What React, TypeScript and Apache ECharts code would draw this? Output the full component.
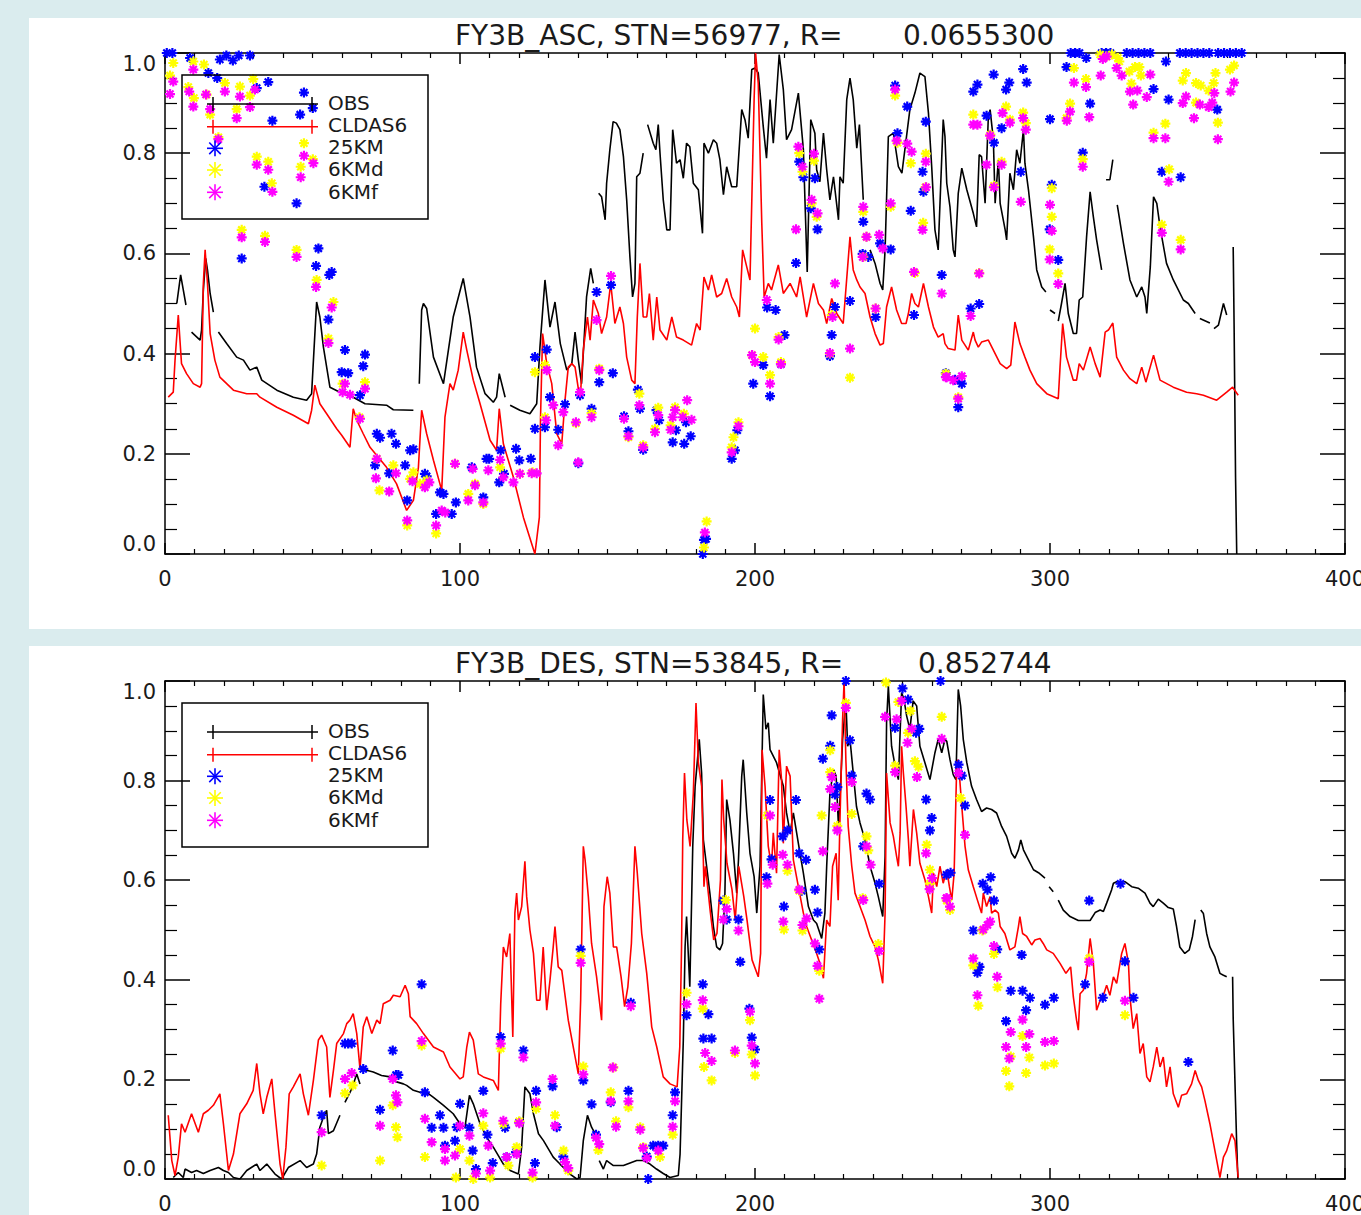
import React, { useEffect, useRef } from "react";
import * as echarts from "echarts";

type P = [number, number];

// ---------- Panel 1 : FY3B_ASC ----------
const TITLE_1 = "FY3B_ASC, STN=56977, R=";
const R_1 = "0.0655300";

const OBS_ASC: P[][] = [
  [[4, 0.5], [5.3, 0.557], [6.2, 0.527], [7.1, 0.497]],
  [[9, 0.443], [11.9, 0.427], [12.4, 0.447], [13, 0.527], [13.8, 0.59], [14.4, 0.567], [15.3, 0.52], [16.4, 0.483]],
  [[18.1, 0.443], [20.9, 0.42], [24.3, 0.393], [26.6, 0.387], [28.8, 0.367], [31.1, 0.373], [32.8, 0.347], [37.9, 0.327], [43.5, 0.313], [48, 0.307], [49.7, 0.32], [50.5, 0.407], [51.4, 0.503], [52.5, 0.473], [53.7, 0.413], [55.9, 0.333], [59.3, 0.323], [63.8, 0.313], [67.8, 0.3], [75.1, 0.297], [77.4, 0.288], [84.2, 0.287]],
  [[86.2, 0.34], [87, 0.487], [87.6, 0.5], [88.7, 0.49], [91, 0.393], [94.4, 0.34], [97.7, 0.473], [101.1, 0.55], [103.4, 0.473], [105.6, 0.373], [108.5, 0.32], [111.3, 0.303], [112.4, 0.313], [113.3, 0.36], [115.3, 0.313]],
  [[117, 0.297], [120.3, 0.287], [123.7, 0.28], [126, 0.3], [127.1, 0.413], [128.8, 0.547], [130.5, 0.453], [132.2, 0.503], [134, 0.42], [136.2, 0.367], [137.9, 0.38], [139, 0.443], [140.1, 0.387], [141.2, 0.34], [142.9, 0.513], [144.3, 0.57], [145.2, 0.54]],
  [[147, 0.72], [148, 0.713], [149.2, 0.667], [149.7, 0.74], [150.8, 0.807], [151.9, 0.863], [153, 0.86], [154.2, 0.847], [155.4, 0.793], [156.5, 0.707], [157.6, 0.593], [158.5, 0.513], [159.3, 0.54], [159.9, 0.753], [161, 0.76], [162.1, 0.8]],
  [[163.6, 0.857], [165.5, 0.82], [166.4, 0.807], [167.2, 0.857], [167.8, 0.8], [168.9, 0.707], [170.1, 0.647], [171.2, 0.647], [172.1, 0.847], [173.4, 0.78], [174.6, 0.787], [175.7, 0.75], [176.8, 0.82], [177.9, 0.813], [179.1, 0.74], [180.8, 0.727], [182.2, 0.64], [182.7, 0.82], [184.2, 0.8], [185.9, 0.827], [187, 0.82], [188.1, 0.787], [189.3, 0.717], [190.4, 0.773], [192.1, 0.733], [193.8, 0.733], [195.5, 0.887], [196.6, 0.867], [197.7, 0.83], [198.9, 0.967], [200, 0.97], [201.1, 0.96], [202.8, 0.853], [203.9, 0.79], [205.1, 0.907], [206.2, 0.82], [208.2, 0.997], [209.6, 0.927], [210.7, 0.827], [212.4, 0.847], [214.7, 0.92], [216.4, 0.807], [217.7, 0.563], [218.9, 0.867], [220.3, 0.84], [220.9, 0.767], [222, 0.743], [223.2, 0.84], [224.3, 0.767], [225.4, 0.707], [226.6, 0.753], [228.3, 0.667], [228.8, 0.753], [229.9, 0.74], [231.1, 0.907], [232.2, 0.95], [233.3, 0.907], [234.5, 0.81], [235.4, 0.857], [236.7, 0.707]],
  [[239, 0.607], [240.7, 0.58], [242.4, 0.54], [243.3, 0.527], [244.1, 0.607], [245.2, 0.833], [246.9, 0.84], [248.6, 0.773], [249.8, 0.76], [250.8, 0.807], [252.5, 0.887], [254.2, 0.92], [255.9, 0.96], [257.6, 0.953], [258.8, 0.88], [259.9, 0.773], [261, 0.647], [262.1, 0.607], [263.8, 0.867], [264.4, 0.833], [265, 0.74], [266.1, 0.693], [267.2, 0.607], [267.8, 0.593], [268.9, 0.72], [270.1, 0.77], [271.8, 0.727], [274, 0.68], [275.1, 0.653], [276, 0.797], [276.8, 0.793], [278, 0.7], [279.1, 0.873], [279.7, 0.887], [280.8, 0.827], [281.4, 0.7], [282.5, 0.787], [283.1, 0.7], [284.8, 0.647], [285.3, 0.627], [286.4, 0.76], [287.6, 0.727], [288.7, 0.807], [289.8, 0.78], [291, 0.847], [291.5, 0.78], [292.7, 0.727], [294.4, 0.633], [295.5, 0.567], [297.2, 0.533], [298.6, 0.523]],
  [[300, 0.487], [301.7, 0.48]],
  [[302.8, 0.465], [303.9, 0.5], [305.1, 0.54], [306.2, 0.48], [307.9, 0.44], [309, 0.44], [309.9, 0.507], [311.1, 0.513], [312.4, 0.633], [313.6, 0.723], [314.7, 0.673], [315.8, 0.627], [317.5, 0.567]],
  [[319, 0.747], [320.3, 0.747], [321.3, 0.787]],
  [[322.8, 0.697], [324.9, 0.62], [327.1, 0.547], [329.4, 0.513], [331.1, 0.533], [332.2, 0.513], [332.8, 0.48], [334, 0.573], [335.1, 0.713], [336.2, 0.7], [337.3, 0.653], [339.5, 0.58], [341.8, 0.547], [345.2, 0.507], [346.9, 0.5], [349.2, 0.48]],
  [[350.8, 0.47], [354.2, 0.461]],
  [[355.6, 0.45], [357.1, 0.457], [358.8, 0.5], [359.9, 0.477]],
  [[362.1, 0.613], [362.4, 0.46], [362.9, 0.153], [363.3, 0]],
];

const CLDAS_ASC: P[][] = [[
  [1.1, 0.313], [2.8, 0.323], [3.4, 0.387], [4.5, 0.477], [5.6, 0.38], [7.3, 0.36], [9.6, 0.34], [11.9, 0.333], [12.4, 0.34], [13, 0.54], [13.6, 0.607], [14.4, 0.54], [15.3, 0.44], [16.9, 0.387], [18.6, 0.353], [23.2, 0.327], [27.7, 0.32], [31.1, 0.32], [32.2, 0.313], [37.9, 0.293], [43.5, 0.277], [48.6, 0.26], [49.7, 0.287], [50.8, 0.337], [52.5, 0.3], [54.8, 0.28], [58.2, 0.25], [59.9, 0.237], [62.7, 0.213], [63.8, 0.29], [65, 0.267], [67.2, 0.24], [69.5, 0.213], [75.1, 0.173], [78.5, 0.14], [81.9, 0.087], [84.2, 0.107], [85.9, 0.173], [87, 0.287], [88.7, 0.24], [91, 0.187], [93.8, 0.127], [94.9, 0.273], [96.6, 0.34], [97.7, 0.327], [99.4, 0.367], [101.1, 0.443], [102.3, 0.407], [104.5, 0.347], [106.8, 0.3], [110.2, 0.227], [112.4, 0.207], [113.3, 0.29], [114.7, 0.22], [118.1, 0.153], [121.5, 0.073], [125.4, 0], [126.9, 0.073], [127.3, 0.273], [128, 0.44], [129.4, 0.38], [131.1, 0.34], [132.8, 0.24], [134.5, 0.22], [135.6, 0.307], [136.7, 0.373], [137.9, 0.38], [139, 0.373], [140.7, 0.307], [141.8, 0.407], [143.2, 0.473], [144.1, 0.427], [145.2, 0.507], [146.9, 0.48], [148, 0.44], [149.7, 0.473], [151.1, 0.54], [152.5, 0.46], [154.2, 0.493], [155.4, 0.46], [156.5, 0.393], [158.2, 0.347], [159.3, 0.34], [160.1, 0.473], [161, 0.58], [162.1, 0.473], [163.3, 0.473], [164.2, 0.52], [165.5, 0.427], [166.7, 0.513], [167.8, 0.447], [170.1, 0.427], [171.8, 0.473], [173.4, 0.433], [175.7, 0.427], [178.5, 0.417], [180.2, 0.46], [181.4, 0.447], [182.7, 0.553], [184.2, 0.527], [185.3, 0.557], [187, 0.513], [188.7, 0.52], [190.4, 0.55], [192.1, 0.513], [193.8, 0.493], [194.7, 0.473], [195.8, 0.607], [197.2, 0.573], [198.3, 0.547], [199.7, 0.907], [200.2, 1.0], [201.1, 0.94], [202.3, 0.66], [203.1, 0.513], [204.5, 0.54], [205.6, 0.527], [207.9, 0.577], [209.6, 0.52], [211.9, 0.54], [214.1, 0.513], [215.3, 0.553], [217.5, 0.473], [219.8, 0.54], [221.5, 0.5], [223.2, 0.487], [224.3, 0.46], [226, 0.51], [227.7, 0.48], [229.9, 0.46], [232.2, 0.633], [233.3, 0.567], [234.5, 0.547], [235.6, 0.533], [237.3, 0.52], [239, 0.473], [240.7, 0.44], [242.4, 0.417], [243.5, 0.42], [244.6, 0.493], [246.3, 0.533], [248, 0.487], [249.7, 0.46], [251.2, 0.46], [252, 0.48], [253.1, 0.52], [254.2, 0.5], [255.4, 0.493], [257.1, 0.54], [258.8, 0.493], [260.5, 0.453], [262.1, 0.433], [263.8, 0.44], [264.4, 0.42], [265.5, 0.41], [267.8, 0.407], [268.9, 0.477], [270.1, 0.427], [272.3, 0.407], [274, 0.443], [274.6, 0.427], [275.7, 0.413], [276.8, 0.423], [279.1, 0.427], [280.8, 0.407], [283.1, 0.38], [285.3, 0.37], [286.7, 0.377], [288.1, 0.463], [289.8, 0.42], [291.5, 0.393], [293.2, 0.367], [295.5, 0.34], [298.9, 0.32], [302.8, 0.31], [303.4, 0.373], [304.3, 0.46], [305.6, 0.393], [307.9, 0.347], [309, 0.347], [309.9, 0.38], [311.3, 0.367], [313.6, 0.413], [315.3, 0.38], [317, 0.353], [318.7, 0.443], [319.8, 0.447], [321.3, 0.461], [322.6, 0.393], [324.9, 0.367], [327.1, 0.35], [329.4, 0.34], [331.1, 0.373], [332.5, 0.343], [335.1, 0.397], [337.3, 0.347], [341.8, 0.333], [346.3, 0.323], [349.7, 0.32], [352, 0.317], [356.5, 0.307], [359.9, 0.323], [361.9, 0.333], [363.8, 0.317],
]];

const KM25_ASC: P[] = [
  [0.6, 1], [2.5, 1], [8.5, 0.99], [18.6, 0.987], [20.8, 0.995], [23, 0.985], [25, 0.995], [28.8, 0.995],
  [14.7, 0.96], [17.7, 0.95], [31.1, 0.93], [35, 0.942], [47.1, 0.921], [45.8, 0.877], [36.4, 0.865], [50.1, 0.89], [44.6, 0.7], [33.7, 0.733], [26, 0.59], [52, 0.61], [51.2, 0.575], [56.5, 0.563], [55.7, 0.557], [55.4, 0.468], [61, 0.407], [59.9, 0.363], [62.1, 0.361], [67.8, 0.398], [67.2, 0.375], [66.1, 0.317], [71.8, 0.24], [72.9, 0.232], [76.8, 0.24], [78.3, 0.22], [71.2, 0.177], [76, 0.161], [81.4, 0.177], [83.1, 0.207], [84.2, 0.209], [82.1, 0.107], [88.1, 0.16], [88.7, 0.155], [93.2, 0.123], [94.4, 0.12], [98.6, 0.103], [91.9, 0.08], [97.2, 0.08], [104, 0.173], [109, 0.19], [109.9, 0.19], [113.8, 0.207], [114.9, 0.16], [113.3, 0.143], [107.9, 0.113], [119, 0.21], [120.1, 0.187], [124, 0.19], [125.4, 0.393], [129.4, 0.408], [125.4, 0.25], [128.8, 0.253], [130.5, 0.313], [133.3, 0.248],
  [146.3, 0.523], [151.2, 0.537], [151.8, 0.361], [147.2, 0.343], [140.7, 0.317], [135.6, 0.299], [144.6, 0.29], [140.1, 0.181], [160.3, 0.328], [161, 0.29], [157.1, 0.245], [155.6, 0.275], [162.1, 0.208], [166.6, 0.287], [167.5, 0.267], [173.2, 0.247], [172.1, 0.223], [176, 0.22], [178.2, 0.235], [176.6, 0.263], [182.3, 0.0], [182.7, 0.028], [183.4, 0.03], [192.1, 0.19], [193.2, 0.207], [194, 0.247], [199.4, 0.34], [202.8, 0.377], [205.1, 0.315], [204.1, 0.492], [207, 0.487], [210, 0.437], [208.8, 0.379], [213.9, 0.581], [215, 0.783], [216.4, 0.752], [220.3, 0.75], [218.9, 0.69], [221.2, 0.648], [226, 0.437], [227.1, 0.493], [225.4, 0.395], [232.2, 0.505], [236.7, 0.663], [236.5, 0.599], [238.4, 0.593], [242.4, 0.62], [246, 0.608], [240.9, 0.473], [247.5, 0.935], [248.3, 0.84], [251.6, 0.893], [252.8, 0.685], [253.9, 0.477], [256.8, 0.763], [257.9, 0.863], [263.3, 0.557], [264.7, 0.361], [257.1, 0.723],
  [274, 0.923], [275.4, 0.937], [280.9, 0.957], [285.1, 0.927], [286.2, 0.941], [290.9, 0.968], [292.1, 0.941], [278.5, 0.875], [281, 0.821], [283.6, 0.85], [290.1, 0.763], [273.1, 0.49], [276, 0.499], [270.1, 0.34], [267.8, 0.348], [268.9, 0.293], [300, 0.868], [300.6, 0.737], [299.9, 0.648], [302.8, 0.587], [305.6, 0.972], [311.1, 0.801], [313.6, 0.899], [312.3, 0.99], [335.1, 0.928], [340.2, 0.907], [339.3, 0.983], [337.9, 0.763], [344.3, 0.752], [356.7, 0.887],
  [307, 1], [308.5, 1], [310, 1], [317.5, 1], [319, 1], [320.5, 1], [326, 1], [328, 1], [330, 1], [332, 1], [334, 1], [344, 1], [346, 1], [348, 1], [350, 1], [352, 1], [354, 1], [357, 1], [359, 1], [361, 1], [363, 1], [365, 1],
];

const KM6D_ASC: P[] = [
  [2.8, 0.98], [1.7, 0.955], [9.6, 0.983], [13.2, 0.977], [20.3, 0.94], [25.4, 0.933], [29.9, 0.948], [7.9, 0.932], [9.8, 0.91], [14.1, 0.917], [15.3, 0.877], [24.3, 0.888], [28.8, 0.915], [18.1, 0.832], [47.1, 0.82], [31.1, 0.793], [35, 0.783], [46, 0.773], [50.1, 0.788], [36.2, 0.74], [26, 0.647], [33.9, 0.635], [44.6, 0.607], [51.4, 0.547], [57.1, 0.503], [55.4, 0.43], [60.2, 0.34], [67.8, 0.343], [125.4, 0.363], [128.8, 0.377], [128.8, 0.273], [71.8, 0.19], [77.4, 0.177], [84.2, 0.163], [83.1, 0.15], [86.4, 0.14], [88.7, 0.147], [82.1, 0.057], [91.9, 0.041], [102.8, 0.12], [105.1, 0.14], [98.3, 0.18], [113.6, 0.173], [120.3, 0.16], [124.6, 0.163], [72.7, 0.127], [107.9, 0.1], [65.9, 0.273],
  [147.2, 0.37], [144.6, 0.281], [139.3, 0.261], [160.8, 0.32], [167.2, 0.292], [166.1, 0.25], [171.4, 0.257], [172.9, 0.293], [175.9, 0.28], [162.1, 0.217], [157.1, 0.233], [192.1, 0.213], [192.7, 0.233], [194.4, 0.263], [183.6, 0.065], [182.7, 0.013], [200, 0.45], [202.8, 0.393], [205.1, 0.357], [199, 0.397], [208, 0.433], [208.8, 0.383], [215, 0.8], [216.1, 0.763], [220, 0.785], [219.2, 0.7], [220.9, 0.673], [225.4, 0.4], [226, 0.477], [232.2, 0.352], [236.7, 0.683], [237.8, 0.633], [236.7, 0.593], [240.9, 0.49], [246, 0.693], [247.5, 0.915], [252.8, 0.78], [248.3, 0.821], [257.9, 0.799], [257, 0.661], [254.2, 0.561], [257.8, 0.732], [264.7, 0.36],
  [274, 0.877], [285.1, 0.893], [286.4, 0.867], [290.9, 0.881], [291.8, 0.86], [283.6, 0.783], [276, 0.561], [268.9, 0.313], [281, 0.735], [279.8, 0.837], [300.6, 0.73], [300.6, 0.673], [299.9, 0.608], [302.8, 0.56], [306.8, 0.899], [305.6, 0.87], [311.1, 0.788], [308.1, 0.97], [312.2, 0.948], [323.5, 0.983], [326.9, 0.963], [328.8, 0.972], [330.3, 0.972], [327.6, 0.939], [330.8, 0.955], [335.1, 0.841], [339.1, 0.859], [340.4, 0.768], [337.9, 0.657], [344.3, 0.627], [345, 0.945], [346.1, 0.96], [349.5, 0.94], [351.1, 0.935], [353.8, 0.925], [355.5, 0.94], [356.1, 0.96], [356.9, 0.861], [361, 0.967], [362.4, 0.975], [349.5, 0.901], [317, 0.997], [319, 0.993], [321, 0.997], [323, 0.99],
];

const KM6F_ASC: P[] = [
  [1.7, 0.918], [2.8, 0.943], [9.6, 0.967], [8.2, 0.923], [9.6, 0.893], [13.9, 0.917], [15.3, 0.888], [20.3, 0.923], [24.3, 0.87], [25.4, 0.913], [28.8, 0.892], [30.5, 0.927], [18.1, 0.828], [47.1, 0.795], [50.3, 0.78], [31.1, 0.777], [35, 0.767], [46, 0.752], [36.4, 0.723], [26, 0.632], [33.9, 0.623], [44.6, 0.593], [51.2, 0.533], [56.5, 0.492], [55.4, 0.421], [61, 0.34], [60.2, 0.323], [62.7, 0.318], [67.8, 0.33], [66.1, 0.27], [71.8, 0.19], [71.5, 0.151], [76, 0.125], [78.3, 0.161], [83.9, 0.145], [82.1, 0.067], [88.1, 0.133], [89.6, 0.143], [91.9, 0.057], [93.8, 0.087], [95, 0.083], [98.3, 0.18], [102.8, 0.107], [104.3, 0.17], [105.1, 0.137], [109.6, 0.167], [113.6, 0.188], [114.7, 0.153], [118.1, 0.143], [120.3, 0.16], [124.3, 0.161], [126, 0.161], [129.4, 0.367], [129.2, 0.267], [133.3, 0.217], [107.9, 0.103],
  [146.3, 0.467], [151.2, 0.555], [147.2, 0.367], [140.7, 0.323], [135, 0.283], [131.6, 0.297], [139.3, 0.263], [144.6, 0.273], [140.1, 0.183], [160.8, 0.297], [155.6, 0.27], [157.1, 0.235], [162.1, 0.213], [166.1, 0.243], [167.2, 0.277], [171.4, 0.248], [172.9, 0.287], [172.1, 0.273], [177, 0.307], [178.5, 0.268], [175.5, 0.273], [183, 0.043], [192.1, 0.203], [194.4, 0.255], [199, 0.397], [200, 0.383], [205.1, 0.34], [204, 0.507], [208, 0.428], [208.8, 0.379], [213.9, 0.648], [214.7, 0.813], [216.1, 0.773], [220, 0.799], [219.2, 0.707], [221.2, 0.68], [225.4, 0.401], [226.3, 0.473], [227.1, 0.54], [232.2, 0.41], [236.7, 0.693], [237.8, 0.633], [236.5, 0.593], [240.9, 0.49], [242.1, 0.637], [243.3, 0.61], [246, 0.7], [248, 0.825], [251.6, 0.819], [253.1, 0.803], [253.9, 0.563], [256.8, 0.647], [257.9, 0.783], [258, 0.732], [263.3, 0.52], [264.7, 0.353], [247.5, 0.927],
  [274, 0.857], [275.4, 0.857], [278.5, 0.777], [279.7, 0.835], [281, 0.732], [283.9, 0.88], [286.4, 0.861], [290.9, 0.87], [291.8, 0.847], [283.6, 0.777], [290.1, 0.703], [273.1, 0.475], [276, 0.56], [265, 0.353], [267.2, 0.347], [270.1, 0.355], [268.9, 0.31], [300, 0.697], [300.6, 0.645], [299.9, 0.588], [302.8, 0.539], [305.7, 0.865], [306.8, 0.883], [308.1, 0.941], [312.2, 0.932], [313.3, 0.872], [311.1, 0.773], [317.2, 0.955], [317.9, 0.988], [322.6, 0.97], [324.3, 0.955], [327.1, 0.923], [328.2, 0.897], [329.6, 0.925], [332.8, 0.912], [334, 0.957], [335.1, 0.83], [339.1, 0.83], [340.2, 0.743], [337.9, 0.641], [344.3, 0.608], [345, 0.9], [346.1, 0.913], [348.8, 0.87], [350.8, 0.897], [353.8, 0.892], [355, 0.901], [355.7, 0.92], [356.9, 0.828], [361.2, 0.923], [362.4, 0.941], [319.2, 0.993],
];

// ---------- Panel 2 : FY3B_DES ----------
const TITLE_2 = "FY3B_DES, STN=53845, R=";
const R_2 = "0.852744";

const OBS_DES: P[][] = [
  [[2.8, 0.003], [4.5, 0.013], [6.2, 0.003], [6.8, 0.02], [9, 0.013], [10.7, 0.017], [13, 0.011], [15.3, 0.017], [18.1, 0.023], [19.8, 0.017], [21.5, 0.013], [23.2, 0.003], [25.4, 0], [27.7, 0.017], [31.1, 0.03], [32.2, 0.017], [34.5, 0.03], [37.3, 0.01], [39.5, 0], [41.8, 0.023], [45.8, 0.037], [48, 0.023], [50.3, 0.03], [51.4, 0.05], [52.5, 0.104], [53.7, 0.124], [54.8, 0.138], [55.4, 0.091], [57.1, 0.097], [59.3, 0.128]],
  [[61, 0.154], [63.3, 0.181], [65, 0.211], [66.1, 0.191]],
  [[66.7, 0.221], [70.6, 0.215], [73.4, 0.208], [76.3, 0.205], [78.5, 0.195], [80.8, 0.191], [81.9, 0.188], [84.2, 0.178], [86.4, 0.174], [88.7, 0.174], [91, 0.164], [94.4, 0.148], [97.7, 0.131], [100, 0.111], [101.7, 0.104], [103.2, 0.168], [104.5, 0.151], [106.8, 0.111], [109, 0.084], [111.3, 0.064], [114.7, 0.03], [117, 0.017], [119.8, 0.01], [120.9, 0.064], [122, 0.185], [123.7, 0.171], [124.9, 0.131], [126.6, 0.091], [128.3, 0.077], [131.6, 0.044], [133.9, 0.03], [137.3, 0.01], [139.6, 0], [140.7, 0.003], [141.8, 0.077], [143.2, 0.128], [144.6, 0.104], [145.8, 0.091]],
  [[147.2, 0.037], [148.6, 0.02], [149.7, 0.037], [152, 0.027], [155.4, 0.027], [159.9, 0.037], [162.1, 0.037], [164.4, 0.03], [166.6, 0.02], [168.9, 0.011], [171.2, 0.003], [174, 0.007], [174.6, 0.05], [175.7, 0.279], [176.3, 0.466], [176.8, 0.527], [177.9, 0.386], [178.9, 0.668], [179.7, 0.789], [180.2, 0.822], [181.1, 0.883], [181.9, 0.815], [182.5, 0.681], [183.6, 0.628], [184.7, 0.574], [185.9, 0.507], [187, 0.466], [188.1, 0.46], [189, 0.473], [189.8, 0.574], [190.4, 0.762], [191.5, 0.721], [192.7, 0.654], [193.8, 0.574], [194.4, 0.641], [195.5, 0.809], [196, 0.842], [197.2, 0.735], [198.3, 0.654], [199.7, 0.607], [200.6, 0.534], [201.7, 0.628], [202.8, 0.973], [203.7, 0.903], [204.5, 0.916], [205.1, 0.862], [207.3, 0.836], [209.6, 0.789], [210.7, 0.735], [211.9, 0.695], [213, 0.735], [214.7, 0.674], [216.4, 0.614], [218.1, 0.547], [219.8, 0.52], [220.9, 0.513], [222.6, 0.483], [223.7, 0.534], [224.3, 0.628], [225.4, 0.775], [226.6, 0.822], [227.5, 0.809], [228.3, 0.708], [228.8, 0.762], [229.7, 0.883], [230.8, 0.963], [231.4, 0.869], [232.2, 0.883], [233.3, 0.815], [234.4, 0.748], [235.6, 0.715], [237.3, 0.681], [239, 0.628], [240.7, 0.594], [241.8, 0.567], [243.3, 0.527], [244.1, 0.648], [244.6, 0.916], [245.2, 0.99], [246.3, 0.869], [247.5, 0.829], [248.6, 0.802], [249.7, 0.977], [250.5, 0.963], [251.4, 0.93], [252.5, 0.903], [253.6, 0.96], [254.8, 0.95], [255.9, 0.869], [257.6, 0.836], [259.3, 0.802], [261, 0.856], [262.1, 0.883], [263.3, 0.856], [264.4, 0.883], [265, 0.879], [266.1, 0.842], [267.2, 0.812], [268.1, 0.802], [268.9, 0.983], [269.7, 0.95], [270.6, 0.883], [271.8, 0.836], [273.4, 0.789], [275.1, 0.762], [276.8, 0.738], [278.5, 0.745], [280.2, 0.742], [281.9, 0.735], [283.6, 0.708], [285.3, 0.688], [287, 0.654], [288.1, 0.644], [289.3, 0.661], [290.1, 0.681], [291, 0.661], [292.7, 0.641], [294.4, 0.621], [296.1, 0.615], [298.3, 0.604]],
  [[299.7, 0.587], [301.1, 0.577]],
  [[302.8, 0.56], [304.5, 0.54], [306.8, 0.527], [309.6, 0.519], [313.6, 0.519], [315.3, 0.535], [317, 0.54], [318.1, 0.537], [319.2, 0.554], [320.9, 0.581], [321.5, 0.594], [322.6, 0.597], [325.4, 0.597], [327.7, 0.587], [329.9, 0.584], [332.2, 0.574], [333.9, 0.554], [335, 0.547], [336.7, 0.562], [338.4, 0.554], [340.1, 0.545], [341.8, 0.542], [342.9, 0.507], [344, 0.466], [345.7, 0.453], [347.2, 0.46], [348.3, 0.487], [349.2, 0.521]],
  [[351.1, 0.54], [352, 0.533], [353.1, 0.493], [354.2, 0.466], [355.9, 0.446], [357.6, 0.413], [358.8, 0.409], [359.9, 0.406]],
  [[361.9, 0.406], [362.1, 0.322], [362.9, 0.151], [363.3, 0.067], [363.7, 0]],
];

const CLDAS_DES: P[][] = [[
  [1.1, 0.128], [2.3, 0.037], [3.4, 0.007], [4.5, 0.044], [5.6, 0.111], [6.8, 0.094], [9, 0.131], [11.3, 0.094], [13, 0.131], [14.7, 0.138], [16.4, 0.148], [18.6, 0.171], [19.8, 0.111], [21.5, 0.017], [23.2, 0.05], [25.4, 0.131], [27.7, 0.151], [29.9, 0.178], [31.1, 0.232], [32.2, 0.171], [33.3, 0.131], [34.5, 0.164], [36.2, 0.201], [37.3, 0.131], [39, 0.03], [39.9, 0], [41, 0.064], [42.1, 0.171], [43.5, 0.185], [45.8, 0.211], [46.9, 0.171], [48.6, 0.128], [50.3, 0.198], [52, 0.279], [53.1, 0.289], [54.8, 0.265], [55.9, 0.164], [57.1, 0.218], [58.2, 0.272], [60.5, 0.292], [61.6, 0.312], [62.7, 0.319], [63.8, 0.332], [65, 0.292], [66.1, 0.221], [67.2, 0.305], [68.4, 0.326], [70.1, 0.292], [71.8, 0.319], [72.9, 0.312], [74, 0.352], [76.3, 0.359], [77.4, 0.369], [79.7, 0.366], [81.4, 0.389], [82.5, 0.372], [83.1, 0.326], [85.3, 0.312], [87.6, 0.292], [91, 0.265], [94.4, 0.255], [96.6, 0.225], [100, 0.201], [101.1, 0.205], [102.3, 0.265], [103.2, 0.295], [104.5, 0.279], [106.2, 0.211], [107.9, 0.205], [111.3, 0.198], [113, 0.178], [113.8, 0.352], [114.7, 0.466], [115.8, 0.446], [116.9, 0.493], [117.9, 0.285], [118.6, 0.534], [119.2, 0.574], [119.8, 0.52], [120.9, 0.547], [122, 0.638], [122.6, 0.567], [123.7, 0.5], [124.9, 0.453], [126, 0.359], [127.1, 0.359], [128.2, 0.466], [129.4, 0.339], [130.5, 0.399], [131.6, 0.466], [132.2, 0.507], [133.3, 0.426], [134.5, 0.419], [136.7, 0.319], [138.4, 0.265], [140.1, 0.211], [140.9, 0.359], [141.8, 0.668], [142.4, 0.641], [143.5, 0.567], [144.6, 0.473], [146.3, 0.406], [148, 0.319], [148.8, 0.547], [149.9, 0.607], [150.8, 0.574], [152, 0.466], [153.1, 0.466], [154.6, 0.406], [155.8, 0.346], [156.9, 0.386], [158.1, 0.473], [159.3, 0.668], [160.1, 0.614], [161.6, 0.493], [163.3, 0.413], [165, 0.305], [166.7, 0.265], [168.9, 0.205], [171.2, 0.191], [173.6, 0.185], [174.5, 0.265], [175.1, 0.466], [175.5, 0.681], [176.1, 0.815], [176.9, 0.721], [178, 0.668], [179.1, 0.775], [180, 0.956], [180.8, 0.836], [181.9, 0.789], [182.7, 0.587], [183.2, 0.628], [184.9, 0.534], [186, 0.48], [187.1, 0.493], [188.3, 0.601], [188.8, 0.802], [189.4, 0.721], [190.5, 0.634], [192.2, 0.581], [193.3, 0.52], [194.5, 0.628], [196.2, 0.567], [197.3, 0.52], [199, 0.44], [201.1, 0.406], [201.9, 0.453], [202.4, 0.862], [203.4, 0.789], [204.5, 0.668], [205.6, 0.628], [206.2, 0.695], [207.3, 0.614], [208.2, 0.862], [209, 0.802], [209.6, 0.674], [210.7, 0.829], [211.9, 0.809], [213, 0.641], [214.7, 0.587], [216.4, 0.534], [217.5, 0.507], [219.2, 0.48], [220.9, 0.453], [222, 0.433], [223.2, 0.403], [224.3, 0.52], [225.4, 0.507], [226.3, 0.628], [227.5, 0.654], [228.2, 0.56], [228.8, 0.721], [229.7, 0.923], [230.2, 1.0], [230.8, 0.842], [231.6, 0.708], [232.8, 0.628], [233.9, 0.574], [235.6, 0.547], [237.3, 0.52], [239, 0.487], [240.7, 0.466], [241.8, 0.44], [243.3, 0.393], [244.1, 0.534], [244.6, 0.815], [245.8, 0.715], [246.9, 0.688], [248, 0.648], [248.6, 0.628], [249.2, 0.695], [249.7, 0.869], [250.3, 0.815], [251.2, 0.748], [252, 0.681], [252.5, 0.628], [253.7, 0.742], [254.8, 0.695], [255.9, 0.634], [257.6, 0.601], [258.8, 0.567], [259.9, 0.534], [260.5, 0.614], [261.6, 0.587], [262.7, 0.628], [263.8, 0.594], [265, 0.621], [265.9, 0.587], [266.7, 0.56], [267.5, 0.614], [268.4, 0.836], [268.9, 0.842], [270.1, 0.748], [271.2, 0.668], [272.3, 0.621], [274, 0.587], [275.4, 0.56], [276.8, 0.534], [277.4, 0.574], [278.5, 0.547], [279.7, 0.567], [280.2, 0.534], [281.4, 0.54], [282.5, 0.534], [283.1, 0.507], [284.7, 0.493], [286.4, 0.46], [288.1, 0.466], [289.3, 0.507], [289.8, 0.527], [290.7, 0.493], [292.1, 0.487], [293.8, 0.47], [294.9, 0.48], [296.6, 0.483], [297.7, 0.473], [298.9, 0.46], [301.1, 0.453], [303.4, 0.433], [305.4, 0.413], [307, 0.426], [307.9, 0.366], [309, 0.319], [309.6, 0.299], [310.2, 0.372], [311.3, 0.379], [312.4, 0.413], [313.6, 0.483], [314.7, 0.433], [315.8, 0.339], [317, 0.359], [318.1, 0.369], [319.2, 0.389], [320.3, 0.369], [321.5, 0.406], [322.6, 0.393], [324.3, 0.453], [325.4, 0.473], [326.6, 0.433], [327.1, 0.366], [328.2, 0.302], [329.4, 0.332], [330.5, 0.252], [331.6, 0.272], [332.8, 0.205], [333.9, 0.195], [335, 0.225], [336.2, 0.265], [337.3, 0.225], [338.4, 0.245], [339.5, 0.185], [340.7, 0.225], [341.8, 0.171], [343.5, 0.144], [344.6, 0.168], [346.3, 0.171], [348, 0.191], [349.2, 0.218], [350.3, 0.198], [351.4, 0.185], [352.5, 0.158], [354.2, 0.111], [355.9, 0.057], [357.6, 0.003], [358.8, 0.044], [359.9, 0.057], [361.6, 0.091], [362.7, 0.077], [363.8, 0.003],
]];

const KM25_DES: P[] = [
  [53.1, 0.128], [61, 0.272], [62.1, 0.272], [63.3, 0.272], [67.2, 0.221], [77.2, 0.258], [78.3, 0.209], [79.1, 0.209], [87, 0.391], [88.1, 0.174], [72.9, 0.139], [90.4, 0.103], [93.2, 0.128], [94.4, 0.103], [94.9, 0.067], [98.3, 0.077], [98.9, 0.104], [100, 0.151], [103.2, 0.103], [104.3, 0.057], [105.4, 0.02], [107.9, 0.177], [109.3, 0.089], [111.1, 0.032], [113.8, 0.285], [115.8, 0.044], [115.3, 0.103], [119, 0.054], [120.1, 0.114], [121.5, 0.258], [125.8, 0.177], [125.4, 0.032], [131.4, 0.186], [132.8, 0.104],
  [135, 0.045], [140.9, 0.461], [141.8, 0.198], [144.6, 0.15], [146.1, 0.089], [151.1, 0.154], [157.1, 0.177], [157.9, 0.354], [163.3, 0.045], [163.8, 0], [165.5, 0.067], [167.2, 0.067], [168.9, 0.067], [172.1, 0.128], [172.9, 0.174], [176.8, 0.329], [182.3, 0.391], [184.2, 0.331], [182.5, 0.282], [185.3, 0.282], [198.1, 0.342], [198.9, 0.284], [200, 0.26], [189.3, 0.559], [190.4, 0.521], [194.4, 0.521], [195, 0.436], [203.9, 0.606], [205.1, 0.761], [205.6, 0.642], [209.4, 0.688], [211, 0.7], [213.9, 0.761], [215, 0.654], [217.3, 0.641], [215.8, 0.579], [220.3, 0.581], [209.8, 0.547], [221.2, 0.535], [221.8, 0.461], [223, 0.844], [226, 0.931], [225.5, 0.87], [227.9, 0.787], [227.1, 0.772], [232.2, 0.881], [230.8, 1.0], [232.8, 0.81], [237.8, 0.774], [239, 0.762], [236.7, 0.668], [242.1, 0.593], [250, 0.985], [251.9, 0.963], [247.5, 0.906], [254.6, 0.896], [255.7, 0.904], [258, 0.762], [259.9, 0.725], [259.3, 0.7], [262.9, 1.0], [264.9, 0.611],
  [266.3, 0.615], [269, 0.832], [270.1, 0.81], [271.2, 0.75], [274, 0.499], [276.1, 0.426], [275.4, 0.414], [277.2, 0.593], [278.8, 0.581], [279.9, 0.606], [281, 0.559], [282.1, 0.461], [285.1, 0.317], [286.7, 0.378], [290.4, 0.45], [290.7, 0.378], [291.9, 0.339], [293.2, 0.364], [298.3, 0.35], [301.3, 0.364], [311.9, 0.391], [313.3, 0.559], [317.9, 0.364], [323.9, 0.593], [325.4, 0.437], [328.3, 0.364], [346.9, 0.235],
];

const KM6D_DES: P[] = [
  [53.1, 0.027], [61, 0.172], [63.6, 0.188], [77.2, 0.148], [78.3, 0.104], [78.8, 0.084], [72.9, 0.037], [87, 0.268], [88.1, 0.044], [98.6, 0.003], [100, 0.06], [103.2, 0.037], [107.9, 0.107], [113.8, 0.262], [114.7, 0.111], [116.4, 0.027], [119.2, 0.064], [120.1, 0.116], [124.6, 0.003], [125.8, 0.141], [132.2, 0.128], [104.5, 0], [110.2, 0.003],
  [135.1, 0.057], [136.7, 0.017], [141.8, 0.226], [140.9, 0.448], [146.9, 0.058], [151.1, 0.174], [152.9, 0.116], [152, 0.224], [157.1, 0.144], [161.1, 0.104], [162.1, 0.064], [167.8, 0.044], [172.1, 0.089], [176.8, 0.374], [182.3, 0.342], [182.7, 0.225], [185.3, 0.198], [193.2, 0.253], [198.3, 0.319], [198.9, 0.25], [200, 0.208], [190.1, 0.56], [209.8, 0.501], [211, 0.619], [215, 0.579], [216.1, 0.499], [221.8, 0.418], [222.6, 0.73], [225.5, 0.861], [225.5, 0.817], [227.9, 0.709], [230.8, 0.956], [232.8, 0.733], [237.8, 0.688], [238.4, 0.66], [236.5, 0.564], [241.8, 0.472], [244.4, 0.997], [247.5, 0.83], [248.6, 0.958], [251.9, 0.896], [252.7, 0.94], [254.2, 0.839], [255.4, 0.828], [258.2, 0.671], [259.3, 0.621], [259.3, 0.593], [263.3, 0.928], [204.2, 0.73],
  [265, 0.559], [266.1, 0.54], [269.7, 0.765], [277.1, 0.499], [274, 0.429], [275.7, 0.348], [281, 0.452], [282.2, 0.385], [285.1, 0.217], [286.2, 0.186], [286.7, 0.246], [290.7, 0.287], [291.9, 0.213], [293, 0.244], [298.3, 0.228], [301.3, 0.232], [313.3, 0.443], [325.4, 0.329],
];

const KM6F_DES: P[] = [
  [53.1, 0.094], [61, 0.201], [63.3, 0.213], [77.2, 0.201], [78.3, 0.168], [78.8, 0.154], [72.9, 0.107], [87, 0.277], [88.1, 0.121], [90.4, 0.074], [94.9, 0.037], [94.9, 0.06], [98.3, 0.047], [100, 0.107], [103.2, 0.087], [105.4, 0.011], [107.9, 0.132], [109.6, 0.067], [110.2, 0.017], [113.8, 0.272], [114.7, 0.117], [115.8, 0.044], [119.2, 0.05], [120.1, 0.112], [121.5, 0.244], [124.6, 0.013], [125.8, 0.154], [131.4, 0.201], [132.2, 0.107],
  [135.6, 0.034], [136.7, 0.022], [140.9, 0.434], [141.8, 0.21], [146.1, 0.083], [147.2, 0.07], [151.1, 0.156], [151.8, 0.224], [152.9, 0.105], [157.1, 0.156], [157.9, 0.347], [161.1, 0.099], [162.1, 0.062], [163.3, 0.042], [167.2, 0.057], [172.1, 0.105], [172.9, 0.156], [176.8, 0.351], [182.3, 0.359], [183.1, 0.253], [185.3, 0.237], [193.2, 0.258], [198.3, 0.336], [198.9, 0.268], [200, 0.232], [189.3, 0.521], [190.4, 0.542], [194.4, 0.499], [204.2, 0.593], [205.1, 0.73], [206, 0.631], [209.4, 0.651], [211, 0.631], [209.6, 0.517], [215, 0.581], [216.1, 0.51], [217.5, 0.523], [220.3, 0.473], [221.2, 0.428], [221.8, 0.362], [223, 0.658], [226, 0.807], [225.5, 0.783], [227.1, 0.747], [227.9, 0.7], [230.8, 0.946], [232.8, 0.797], [236.7, 0.56], [237.8, 0.668], [239.2, 0.631], [242.1, 0.458], [244.1, 0.928], [247.5, 0.817], [248, 0.923], [249.7, 0.96], [251.7, 0.876], [253.1, 0.904], [254.9, 0.807], [258, 0.654], [259.2, 0.582], [260, 0.604], [263.3, 0.884], [264.9, 0.564],
  [265, 0.564], [266.1, 0.547], [269, 0.815], [271.2, 0.691], [274, 0.443], [275.4, 0.369], [277.4, 0.501], [278.8, 0.51], [279.7, 0.517], [281, 0.468], [282.1, 0.406], [285.1, 0.265], [286.2, 0.242], [286.7, 0.295], [290.7, 0.32], [291.9, 0.265], [293, 0.291], [298.3, 0.275], [301.3, 0.277], [313.3, 0.436], [325.4, 0.358],
];

const LEGEND_NAMES = ["OBS", "CLDAS6", "25KM", "6KMd", "6KMf"];
const X_MIN = 0, X_MAX = 400, X_STEP = 100;
const Y_MIN = 0, Y_MAX = 1, Y_STEP = 0.2;

// ---------- styling ----------
const PAGE_W = 1361;
const CANVAS_W = 1410; // drawn wider so the "400" label is cut by the window edge, as in the original
const PAGE_H = 1215;
const BG = "#daecee";
const C_OBS = "#000000";
const C_CLDAS = "#ff0000";
const C_25 = "#0000ff";
const C_6D = "#ffff00";
const C_6F = "#ff00ff";
const FONT = "'DejaVu Sans', sans-serif";
const TXT = "#1a1a1a";
const STAR = "path://M5 0L5 10M0 5L10 5M1.5 1.5L8.5 8.5M1.5 8.5L8.5 1.5";

const GRIDS = [
  { left: 165, top: 53, width: 1180, height: 501 },
  { left: 165, top: 681, width: 1180, height: 498 },
];

function joinSegments(segs: P[][]): any[] {
  const out: any[] = [];
  segs.forEach((s, i) => {
    if (i > 0) {
      const prev = segs[i - 1];
      out.push([prev[prev.length - 1][0], "-"]);
    }
    s.forEach((p) => out.push(p));
  });
  return out;
}

function xAxis(gridIndex: number, position: "bottom" | "top") {
  const labels = position === "bottom";
  return {
    type: "value",
    gridIndex,
    position,
    min: X_MIN,
    max: X_MAX,
    interval: X_STEP,
    axisLine: { show: true, onZero: false, lineStyle: { color: "#000", width: 1.5 } },
    axisTick: { show: true, inside: true, length: 11, lineStyle: { color: "#000", width: 1.5 } },
    minorTick: { show: true, splitNumber: 10, length: 5, lineStyle: { color: "#000", width: 1.2 } },
    splitLine: { show: false },
    minorSplitLine: { show: false },
    axisLabel: {
      show: labels,
      margin: 14,
      color: TXT,
      fontFamily: FONT,
      fontSize: 21,
      formatter: (v: number) => String(Math.round(v)),
    },
  };
}

function yAxis(gridIndex: number, position: "left" | "right") {
  const labels = position === "left";
  return {
    type: "value",
    gridIndex,
    position,
    min: Y_MIN,
    max: Y_MAX,
    interval: Y_STEP,
    axisLine: { show: true, onZero: false, lineStyle: { color: "#000", width: 1.5 } },
    axisTick: { show: true, inside: true, length: 25, lineStyle: { color: "#000", width: 1.5 } },
    minorTick: { show: true, splitNumber: 4, length: 12, lineStyle: { color: "#000", width: 1.2 } },
    splitLine: { show: false },
    minorSplitLine: { show: false },
    axisLabel: {
      show: labels,
      margin: 9,
      color: TXT,
      fontFamily: FONT,
      fontSize: 21,
      verticalAlignMaxLabel: "top",
      verticalAlignMinLabel: "bottom",
      formatter: (v: number) => v.toFixed(1),
    },
  };
}

function lineSeries(name: string, segs: P[][], color: string, axisBase: number) {
  return {
    name,
    type: "line",
    xAxisIndex: axisBase,
    yAxisIndex: axisBase,
    data: joinSegments(segs),
    showSymbol: false,
    symbol: "none",
    connectNulls: false,
    lineStyle: { color, width: 1.6 },
    itemStyle: { color },
    z: 2,
  };
}

function scatterSeries(name: string, pts: P[], color: string, axisBase: number, z: number) {
  return {
    name,
    type: "scatter",
    xAxisIndex: axisBase,
    yAxisIndex: axisBase,
    data: pts,
    symbol: STAR,
    symbolSize: 10,
    itemStyle: { color, borderColor: color, borderWidth: 2.2, opacity: 1 },
    z,
  };
}

function star(cx: number, cy: number, r: number, color: string) {
  const d = r * 0.72;
  const segs = [
    [cx, cy - r, cx, cy + r],
    [cx - r, cy, cx + r, cy],
    [cx - d, cy - d, cx + d, cy + d],
    [cx - d, cy + d, cx + d, cy - d],
  ];
  return segs.map((s) => ({
    type: "line",
    z: 50,
    shape: { x1: s[0], y1: s[1], x2: s[2], y2: s[3] },
    style: { stroke: color, lineWidth: 1.6 },
  }));
}

function legendGraphics(dy: number) {
  const els: any[] = [];
  els.push({
    type: "rect",
    z: 50,
    shape: { x: 182, y: 75 + dy, width: 246, height: 144 },
    style: { fill: "none", stroke: "#000", lineWidth: 1.5 },
  });
  const lineRows: [number, string][] = [
    [104, C_OBS],
    [126.7, C_CLDAS],
  ];
  lineRows.forEach(([y, c]) => {
    els.push({ type: "line", z: 50, shape: { x1: 207, y1: y + dy, x2: 318, y2: y + dy }, style: { stroke: c, lineWidth: 1.5 } });
    [213, 312].forEach((x) =>
      els.push({ type: "line", z: 50, shape: { x1: x, y1: y + dy - 7, x2: x, y2: y + dy + 7 }, style: { stroke: c, lineWidth: 1.5 } })
    );
  });
  els.push(...star(215, 148.3 + dy, 8, C_25));
  els.push(...star(215, 170 + dy, 8, C_6D));
  els.push(...star(215, 192.3 + dy, 8, C_6F));
  const textY = [102.8, 125, 147, 169, 191.7];
  LEGEND_NAMES.forEach((n, i) => {
    els.push({
      type: "text",
      z: 50,
      x: 328,
      y: textY[i] + dy,
      style: { text: n, font: `20px ${FONT}`, fill: TXT, align: "left", verticalAlign: "middle" },
    });
  });
  return els;
}

function titleGraphics(left: string, right: string, rightX: number, y: number) {
  return [
    { type: "text", z: 50, x: 455, y, style: { text: left, font: `28px ${FONT}`, fill: TXT, align: "left", verticalAlign: "middle" } },
    { type: "text", z: 50, x: rightX, y, style: { text: right, font: `28px ${FONT}`, fill: TXT, align: "left", verticalAlign: "middle" } },
  ];
}

export default function App() {
  const ref = useRef<HTMLDivElement>(null);

  useEffect(() => {
    if (!ref.current) return;
    document.body.style.margin = "0";
    document.body.style.overflow = "hidden";
    document.documentElement.style.overflow = "hidden";
    const chart = echarts.init(ref.current, null, { renderer: "svg", width: CANVAS_W, height: PAGE_H });

    const xAxes = [xAxis(0, "bottom"), xAxis(0, "top"), xAxis(1, "bottom"), xAxis(1, "top")];
    const yAxes = [yAxis(0, "left"), yAxis(0, "right"), yAxis(1, "left"), yAxis(1, "right")];
    const series = [
      lineSeries("OBS", OBS_ASC, C_OBS, 0),
      lineSeries("CLDAS6", CLDAS_ASC, C_CLDAS, 0),
      scatterSeries("25KM", KM25_ASC, C_25, 0, 3),
      scatterSeries("6KMd", KM6D_ASC, C_6D, 0, 4),
      scatterSeries("6KMf", KM6F_ASC, C_6F, 0, 5),
      lineSeries("OBS", OBS_DES, C_OBS, 2),
      lineSeries("CLDAS6", CLDAS_DES, C_CLDAS, 2),
      scatterSeries("25KM", KM25_DES, C_25, 2, 3),
      scatterSeries("6KMd", KM6D_DES, C_6D, 2, 4),
      scatterSeries("6KMf", KM6F_DES, C_6F, 2, 5),
    ];

    const graphics: any[] = [
      { type: "rect", z: -100, shape: { x: 29, y: 18, width: CANVAS_W - 29, height: 611 }, style: { fill: "#ffffff" } },
      { type: "rect", z: -100, shape: { x: 29, y: 646, width: CANVAS_W - 29, height: 569 }, style: { fill: "#ffffff" } },
      ...titleGraphics(TITLE_1, R_1, 903, 35),
      ...titleGraphics(TITLE_2, R_2, 918, 663),
      ...legendGraphics(0),
      ...legendGraphics(628),
    ];

    chart.setOption({
      animation: false,
      backgroundColor: BG,
      grid: GRIDS.map((g) => ({ ...g, containLabel: false, show: false })),
      xAxis: xAxes,
      yAxis: yAxes,
      series,
      graphic: { elements: graphics },
    });

    return () => chart.dispose();
  }, []);

  return (
    <div style={{ position: "absolute", left: 0, top: 0, width: PAGE_W, height: PAGE_H, overflow: "hidden" }}>
      <div ref={ref} style={{ position: "absolute", left: 0, top: 0, width: CANVAS_W, height: PAGE_H }} />
    </div>
  );
}
